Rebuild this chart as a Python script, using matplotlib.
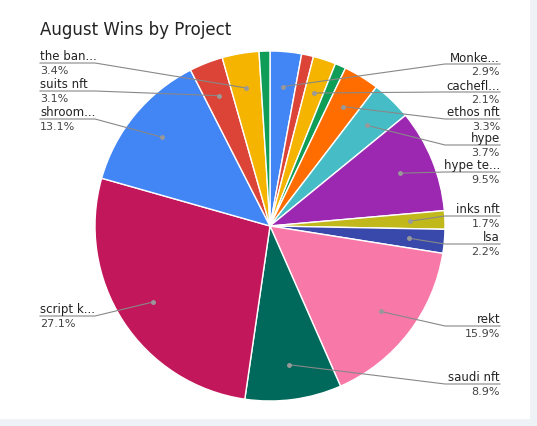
import numpy as np
import matplotlib.pyplot as plt

# slices clockwise from 12 o'clock
names = ["Monke...", "", "cachefl...", "", "ethos nft", "hype", "hype te...", "inks nft", "lsa",
         "rekt", "saudi nft", "script k...", "shroom...", "suits nft", "the ban...", ""]
values = [2.9, 1.1, 2.1, 1.0, 3.3, 3.7, 9.5, 1.7, 2.2, 15.9, 8.9, 27.1, 13.1, 3.1, 3.4, 1.0]
colors = ["#4285f4", "#db4437", "#f4b400", "#0f9d58", "#ff6d01", "#46bdc6", "#9c27b0", "#c1b81c",
          "#3949ab", "#f878a8", "#00695c", "#c2185b", "#4285f4", "#db4437", "#f4b400", "#0f9d58"]
# label row (name y in pixels)
label_y = {"Monke...": 58, "cachefl...": 86, "ethos nft": 113, "hype": 139, "hype te...": 166,
           "inks nft": 210, "lsa": 238, "rekt": 320, "saudi nft": 378,
           "the ban...": 57, "suits nft": 85, "shroom...": 113, "script k...": 310}

W, H = 537, 427
fig = plt.figure(figsize=(W / 100, H / 100), dpi=100, facecolor="#eef1f5")
bg = fig.add_axes([0, 0, 1, 1])
bg.set_xlim(0, W)
bg.set_ylim(H, 0)
bg.axis("off")
bg.add_patch(plt.Rectangle((0, 0), W - 8, H - 8, color="white", zorder=0))

cx, cy, r = 270, 227, 175
ax = fig.add_axes([(cx - r) / W, 1 - (cy + r) / H, 2 * r / W, 2 * r / H])
wedges, _ = ax.pie(values, colors=colors, startangle=90, counterclock=False,
                   wedgeprops=dict(edgecolor="white", linewidth=1))
ax.set_xlim(-1, 1)
ax.set_ylim(-1, 1)
ax.set_aspect("auto")

ov = fig.add_axes([0, 0, 1, 1], facecolor="none")
ov.set_xlim(0, W)
ov.set_ylim(H, 0)
ov.axis("off")

for w, n, v in zip(wedges, names, values):
    if not n:
        continue
    a = np.deg2rad((w.theta1 + w.theta2) / 2)
    dx = cx + 0.8 * r * np.cos(a)
    dy = cy - 0.8 * r * np.sin(a)
    y = label_y[n]
    ym = y + 7
    if np.cos(a) > 0:
        ov.plot([dx, 445, 500], [dy, ym, ym], color="#888888", lw=0.8)
        ov.text(500, y, n, ha="right", va="center", fontsize=8.5, color="#222222")
        ov.text(500, y + 14, f"{v}%", ha="right", va="center", fontsize=8, color="#444444")
    else:
        ov.plot([dx, 95, 40], [dy, ym, ym], color="#888888", lw=0.8)
        ov.text(40, y, n, ha="left", va="center", fontsize=8.5, color="#222222")
        ov.text(40, y + 14, f"{v}%", ha="left", va="center", fontsize=8, color="#444444")
    ov.plot(dx, dy, "o", color="#999999", ms=2.5)

ov.text(40, 30, "August Wins by Project", fontsize=12, color="#222222", va="center")

fig.savefig("out.png", dpi=100, facecolor=fig.get_facecolor())
